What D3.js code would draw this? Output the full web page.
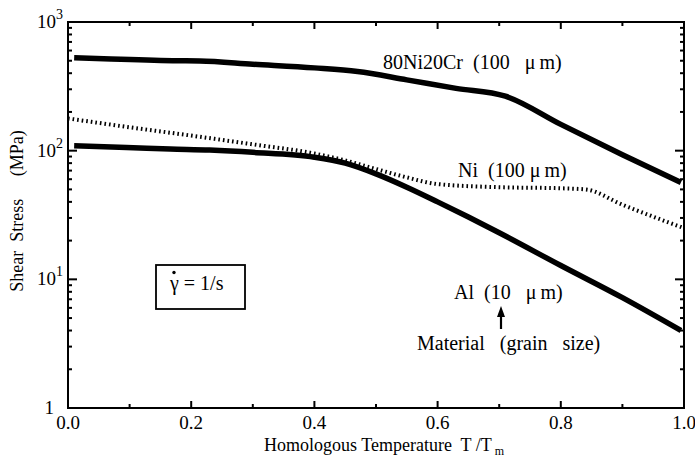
<!DOCTYPE html>
<html>
<head>
<meta charset="utf-8">
<script src="https://cdn.jsdelivr.net/npm/d3@7"></script>
<style>
  html, body { margin: 0; padding: 0; background: #fff; }
  svg { display: block; }
  svg text { font-family: "Liberation Serif", "Times New Roman", Times, "DejaVu Serif", serif; white-space: pre; fill: #000; }
</style>
</head>
<body>
<svg id="chart" width="695" height="463"></svg>
<script>
// Homologous temperature T/Tm and shear stress (MPa) for each material
const tNi20Cr = [0.01, 0.07, 0.17, 0.214, 0.3, 0.4, 0.47, 0.55, 0.63, 0.71, 0.8, 0.9, 0.995];
const sNi20Cr = [528, 515, 500, 498, 470, 440, 412, 355, 305, 265, 160, 93, 56.6];

const tNi = [0.0, 0.1, 0.2, 0.3, 0.4, 0.45, 0.5, 0.55, 0.6, 0.7, 0.8, 0.84, 0.9, 1.0];
const sNi = [178, 152, 131, 112, 95, 84, 72, 62, 55, 52, 51, 50, 38, 25];

const tAl = [0.01, 0.095, 0.166, 0.23, 0.3, 0.4, 0.45, 0.5, 0.55, 0.6, 0.65, 0.7, 0.8, 0.9, 0.995];
const sAl = [109, 106, 103, 101, 97, 89, 80, 66, 52, 40, 30.5, 23, 12.8, 7.2, 4.0];

const xTickLabels = ["0.0", "0.2", "0.4", "0.6", "0.8", "1.0"];
const xTickValues = [0, 0.2, 0.4, 0.6, 0.8, 1.0];
const yDecades = [1, 10, 100, 1000];
const yDecadeExp = ["", "1", "2", "3"];

const margin = { left: 68, right: 11, top: 22, bottom: 55 };
const W = 695, H = 463;
const svg = d3.select("#chart");

const x = d3.scaleLinear().domain([0, 1]).range([margin.left, W - margin.right]);
const y = d3.scaleLog().domain([1, 1000]).range([H - margin.bottom, margin.top]);

const x0 = x(0), x1 = x(1), y0 = y(1), y1 = y(1000);

// frame
svg.append("rect")
  .attr("x", x0).attr("y", y1)
  .attr("width", x1 - x0).attr("height", y0 - y1)
  .attr("fill", "none").attr("stroke", "#000").attr("stroke-width", 2);

// x ticks (inward, bottom and top): long at 0.2 steps, short in between
const xMinor = d3.range(1, 10).map(i => i / 10);
xMinor.forEach((v, i) => {
  const len = (i % 2 === 1) ? 7 : 4;
  svg.append("line").attr("x1", x(v)).attr("x2", x(v))
    .attr("y1", y0).attr("y2", y0 - len).attr("stroke", "#000").attr("stroke-width", 2);
  svg.append("line").attr("x1", x(v)).attr("x2", x(v))
    .attr("y1", y1).attr("y2", y1 + len).attr("stroke", "#000").attr("stroke-width", 2);
});

// y ticks (inward, left and right): decades plus 2..9
const yMinor = [];
[1, 10, 100].forEach(d => { for (let k = 2; k <= 9; k++) yMinor.push(d * k); });
yMinor.forEach(v => {
  svg.append("line").attr("x1", x0).attr("x2", x0 + 4)
    .attr("y1", y(v)).attr("y2", y(v)).attr("stroke", "#000").attr("stroke-width", 2);
  svg.append("line").attr("x1", x1).attr("x2", x1 - 4)
    .attr("y1", y(v)).attr("y2", y(v)).attr("stroke", "#000").attr("stroke-width", 2);
});
[10, 100].forEach(v => {
  svg.append("line").attr("x1", x0).attr("x2", x0 + 9)
    .attr("y1", y(v)).attr("y2", y(v)).attr("stroke", "#000").attr("stroke-width", 2);
  svg.append("line").attr("x1", x1).attr("x2", x1 - 9)
    .attr("y1", y(v)).attr("y2", y(v)).attr("stroke", "#000").attr("stroke-width", 2);
});

// x tick labels
svg.selectAll("text.xtl").data(xTickValues).enter().append("text")
  .attr("class", "xtl")
  .attr("x", d => x(d)).attr("y", y0 + 21)
  .attr("text-anchor", "middle").attr("font-size", 19)
  .text((d, i) => xTickLabels[i]);

// y tick labels: 1, 10^1, 10^2, 10^3
yDecades.forEach((v, i) => {
  const t = svg.append("text")
    .attr("y", y(v) + 6)
    .attr("text-anchor", "end").attr("font-size", 19);
  if (yDecadeExp[i] === "") {
    t.attr("x", x0 - 14).text("1");
  } else {
    t.attr("x", x0 - 5);
    t.append("tspan").text("10");
    t.append("tspan").attr("dy", -9).attr("font-size", 14).text(yDecadeExp[i]);
  }
});

// axis titles
svg.append("text")
  .attr("x", 264).attr("y", 451)
  .attr("font-size", 18)
  .call(t => {
    t.append("tspan").text("Homologous Temperature  T /T");
    t.append("tspan").attr("dy", 4).attr("font-size", 12).text(" m");
  });

svg.append("text")
  .attr("transform", `translate(23,211) rotate(-90)`)
  .attr("text-anchor", "middle").attr("font-size", 18)
  .text("Shear  Stress     (MPa)");

// curves
const line = d3.line().x(d => x(d[0])).y(d => y(d[1])).curve(d3.curveMonotoneX);
const zip = (a, b) => a.map((v, i) => [v, b[i]]);

svg.append("path").datum(zip(tNi20Cr, sNi20Cr))
  .attr("d", line).attr("fill", "none").attr("stroke", "#000").attr("stroke-width", 5.5);

svg.append("path").datum(zip(tNi, sNi))
  .attr("d", line).attr("fill", "none").attr("stroke", "#000").attr("stroke-width", 4)
  .attr("stroke-dasharray", "1.6,3");

svg.append("path").datum(zip(tAl, sAl))
  .attr("d", line).attr("fill", "none").attr("stroke", "#000").attr("stroke-width", 5.5);

// curve labels
svg.append("text").attr("x", 383).attr("y", 69).attr("font-size", 20)
  .text("80Ni20Cr  (100   \u03bc\u2009m)");
svg.append("text").attr("x", 458).attr("y", 177).attr("font-size", 20)
  .text("Ni  (100 \u03bc\u2009m)");
svg.append("text").attr("x", 454).attr("y", 299).attr("font-size", 20)
  .text("Al  (10   \u03bc\u2009m)");
svg.append("text").attr("x", 417).attr("y", 350).attr("font-size", 20)
  .text("Material   (grain   size)");

// arrow pointing up to the Al label
svg.append("line").attr("x1", 501).attr("x2", 501).attr("y1", 329).attr("y2", 314)
  .attr("stroke", "#000").attr("stroke-width", 2.2);
svg.append("path").attr("d", "M501,306 L497,317 L505,317 Z").attr("fill", "#000");

// strain-rate box
svg.append("rect").attr("x", 156).attr("y", 265).attr("width", 89).attr("height", 44)
  .attr("fill", "#fff").attr("stroke", "#000").attr("stroke-width", 1.8);
svg.append("text").attr("x", 170).attr("y", 290).attr("font-size", 20)
  .text("\u03b3 = 1/s");
svg.append("circle").attr("cx", 174).attr("cy", 272.5).attr("r", 1.7).attr("fill", "#000");
</script>
</body>
</html>
